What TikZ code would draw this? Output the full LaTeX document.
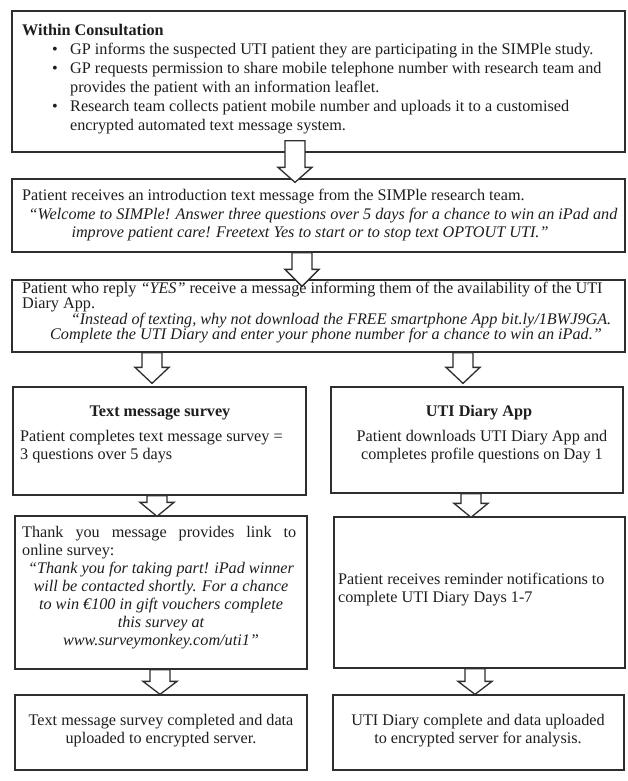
\documentclass[tikz,border=0pt]{standalone}
\usepackage{fontspec}
\setmainfont{Liberation Serif}
\usetikzlibrary{calc}
\definecolor{linec}{HTML}{2E2E2E}
\definecolor{textc}{HTML}{1E1E1E}
\newcommand\blockarrow[6]{%
  \draw[blkarr] let \p1=(#2.south), \p2=(#3.north) in
    ({#1pt-10pt},{\y1+(#4pt)}) -- ({#1pt-10pt},{\y2-(#5pt)+(#6pt)}) --
    ({#1pt-17pt},{\y2-(#5pt)+(#6pt)}) -- ({#1pt},{\y2-(#5pt)}) --
    ({#1pt+17pt},{\y2-(#5pt)+(#6pt)}) -- ({#1pt+10pt},{\y2-(#5pt)+(#6pt)}) --
    ({#1pt+10pt},{\y1+(#4pt)}) -- cycle;}
\begin{document}
\begin{tikzpicture}[x=1pt,y=-1pt,
  box/.style={draw=linec, line width=1.3pt, inner sep=0pt},
  blkarr/.style={draw=linec, line width=1.3pt, fill=white, line join=miter},
  txt/.style={text=textc, inner sep=0pt, font=\fontsize{16.2}{18}\selectfont},
  txtb/.style={txt, font=\fontsize{16.2}{18}\selectfont\bfseries},
  txti/.style={txt, font=\fontsize{16.2}{18}\selectfont\itshape}]
\useasboundingbox[fill=white] (0,0) rectangle (627,781);

% boxes
\node[box, minimum width=613pt, minimum height=141pt] (b1) at (318.5,81.5) {};
\node[box, minimum width=613pt, minimum height=73pt] (b2) at (318.5,215.5) {};
\node[box, minimum width=613pt, minimum height=72pt] (b3) at (318.5,316) {};
\node[box, minimum width=293pt, minimum height=108pt] (l1) at (159.5,441) {};
\node[box, minimum width=292pt, minimum height=106pt] (r1) at (477,440) {};
\node[box, minimum width=292pt, minimum height=153pt] (l2) at (161,592.5) {};
\node[box, minimum width=291pt, minimum height=151pt] (r2) at (479.5,592.5) {};
\node[box, minimum width=292pt, minimum height=75pt] (l3) at (161,732.5) {};
\node[box, minimum width=291pt, minimum height=75pt] (r3) at (478.5,732.5) {};

% block arrows
\blockarrow{295}{b1}{b2}{12}{4}{15}
\blockarrow{302}{b2}{b3}{0}{7}{17}
\blockarrow{152}{b3}{l1}{0}{-3}{16}
\blockarrow{463}{b3}{r1}{0}{-3}{16}
\blockarrow{157}{l1}{l2}{0}{1}{14}
\blockarrow{471}{r1}{r2}{0}{1}{14}
\blockarrow{160}{l2}{l3}{0}{0}{13}
\blockarrow{475}{r2}{r3}{0}{0}{13}

% box 1 text
\node[txtb, anchor=base west] (t1) at (22,36) {Within Consultation};
\node[txt, anchor=base west, font=\fontsize{16.2}{19}\selectfont] (t1l) at (52,55) {%
  \begin{tabular}[t]{@{}p{18pt}@{}l@{}}
  \textbullet & GP informs the suspected UTI patient they are participating in the SIMPle study.\\
  \textbullet & GP requests permission to share mobile telephone number with research team and\\
   & provides the patient with an information leaflet.\\
  \textbullet & Research team collects patient mobile number and uploads it to a customised\\
   & encrypted automated text message system.
  \end{tabular}};

% box 2 text
\node[txt, anchor=base west] (t2a) at (22,200) {Patient receives an introduction text message from the SIMPle research team.};
\node[txti, anchor=base] (t2b) at (323,219) {“Welcome to SIMPle! Answer three questions over 5 days for a chance to win an iPad and};
\node[txti, anchor=base] (t2c) at (310,237) {improve patient care! Freetext Yes to start or to stop text OPTOUT UTI.”};

% box 3 text
\node[txt, anchor=base west, align=left, font=\fontsize{16.2}{15.5}\selectfont] (t3a) at (22,308.5) {Patient who reply \textit{“YES”} receive a message informing them of the availability of the UTI\\Diary App.};
\node[txti, anchor=base] (t3b) at (341,324) {“Instead of texting, why not download the FREE smartphone App bit.ly/1BWJ9GA.};
\node[txti, anchor=base] (t3c) at (326,339.5) {Complete the UTI Diary and enter your phone number for a chance to win an iPad.”};

% left column
\node[txtb, anchor=base] (tl1a) at (160,416) {Text message survey};
\node[txt, anchor=base west, align=left] (tl1b) at (20,459) {Patient completes text message survey =\\3 questions over 5 days};
\node[txt, anchor=base west] (tl2a) at (22,537) {\parbox[t]{274pt}{\fontsize{16.2}{18}\selectfont Thank you message provides link to\linebreak online survey:}};
\node[txti, anchor=base, align=center] (tl2b) at (161,645) {“Thank you for taking part! iPad winner\\will be contacted shortly. For a chance\\to win €100 in gift vouchers complete\\this survey at\\www.surveymonkey.com/uti1”};
\node[txt, anchor=base, align=center] (tl3) at (161,743) {Text message survey completed and data\\uploaded to encrypted server.};

% right column
\node[txtb, anchor=base] (tr1a) at (479,416) {UTI Diary App};
\node[txt, anchor=base, align=center] (tr1b) at (482,459) {Patient downloads UTI Diary App and\\completes profile questions on Day 1};
\node[txt, anchor=base west, align=left] (tr2) at (338,602) {Patient receives reminder notifications to\\complete UTI Diary Days 1-7};
\node[txt, anchor=base, align=center] (tr3) at (478,743) {UTI Diary complete and data uploaded\\to encrypted server for analysis.};
\end{tikzpicture}
\end{document}
